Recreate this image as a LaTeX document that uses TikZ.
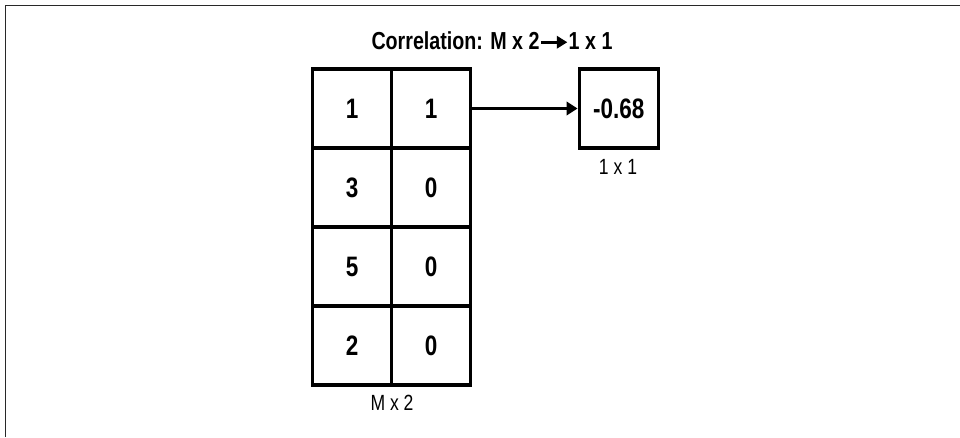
\documentclass[tikz,border=0pt]{standalone}
\usepackage{fontspec}
\setmainfont{Liberation Sans}[FakeStretch=0.8]
\usepackage{tikz}
\usetikzlibrary{arrows.meta,positioning}
\definecolor{framecolor}{RGB}{40, 40, 40}

\begin{document}
\begin{tikzpicture}[
    cell/.style={rectangle, draw, line width=2pt, minimum size=1.58cm, inner sep=0pt, font=\fontsize{16}{18}\selectfont\bfseries},
    dimlabel/.style={font=\fontsize{12.5}{14}\selectfont},
    arrow/.style={-{Triangle[length=0.22cm, width=0.27cm]}, line width=1.3pt}
]
    \useasboundingbox (0, 0) rectangle (19.2, 8.74);
    % Frame
    \draw[framecolor, line width=1.1pt] (0.11, 0) -- (0.11, 8.63) -- (19.2, 8.63);

    % Title
    \node[font=\fontsize{14}{16}\selectfont\bfseries] (title) at (9.84, 7.92) {Correlation: M x 2\raisebox{0.5pt}{\tikz[baseline]\draw[-{Triangle[length=6pt, width=7pt]}, line width=1.6pt] (0, 3.8pt) -- (15pt, 3.8pt);}1 x 1};

    % Input matrix
    \node[cell] (c11) at (7.044, 6.57) {1};
    \node[cell] (c12) at (8.624, 6.57) {1};
    \node[cell] (c21) at (7.044, 4.99) {3};
    \node[cell] (c22) at (8.624, 4.99) {0};
    \node[cell] (c31) at (7.044, 3.41) {5};
    \node[cell] (c32) at (8.624, 3.41) {0};
    \node[cell] (c41) at (7.044, 1.83) {2};
    \node[cell] (c42) at (8.624, 1.83) {0};
    \node[dimlabel] (inlabel) at (7.84, 0.68) {M x 2};

    % Result
    \node[cell] (result) at (12.376, 6.57) {-0.68};
    \node[dimlabel] (outlabel) at (12.36, 5.4) {1 x 1};

    % Arrow
    \draw[arrow] (c12) -- (result);
\end{tikzpicture}
\end{document}
